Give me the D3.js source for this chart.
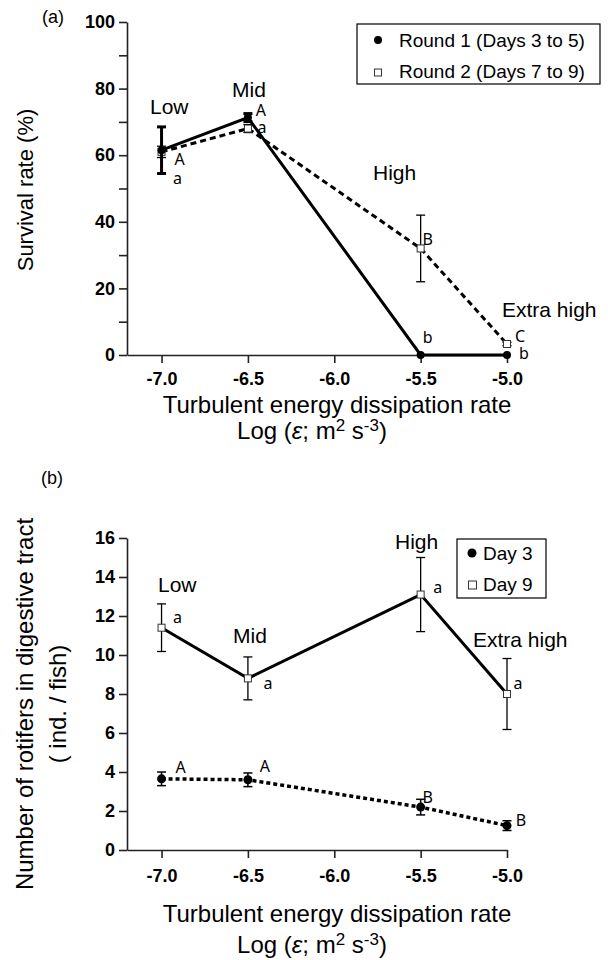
<!DOCTYPE html>
<html><head><meta charset="utf-8">
<script src="https://cdn.jsdelivr.net/npm/d3@7"></script>
<style>
html,body{margin:0;padding:0;background:#fff;}
svg{display:block;}
text{font-family:"Liberation Sans",Arial,sans-serif;fill:#000;}
</style></head>
<body>
<script>
// ---------- data ----------
const xVals = [-7.0, -6.5, -5.5, -5.0];
const levels = ["Low", "Mid", "High", "Extra high"];
const xTicks = [-7.0, -6.5, -6.0, -5.5, -5.0];
const xTickLabels = ["-7.0", "-6.5", "-6.0", "-5.5", "-5.0"];

// panel (a) survival rate (%)
const yTicksA = [0, 10, 20, 30, 40, 50, 60, 70, 80, 90, 100];
const yLabelsA = [0, 20, 40, 60, 80, 100];
const round1Mean = [61.5, 71.3, 0, 0];
const round1Err = [7.0, 1.2, 0, 0];
const round2Mean = [61.0, 68.0, 32.0, 3.3];
const round2Err = [1.7, 1.2, 10.0, 0.5];
const round1Letters = ["A", "A", "b", "b"];
const round2Letters = ["a", "a", "B", "C"];
const legendA = ["Round 1 (Days 3 to 5)", "Round 2 (Days 7 to 9)"];

// panel (b) rotifers in digestive tract
const yTicksB = [0, 2, 4, 6, 8, 10, 12, 14, 16];
const day9Mean = [11.4, 8.8, 13.1, 8.0];
const day9Err = [1.22, 1.1, 1.9, 1.82];
const day3Mean = [3.65, 3.6, 2.2, 1.25];
const day3Err = [0.35, 0.35, 0.4, 0.25];
const day9Letters = ["a", "a", "a", "a"];
const day3Letters = ["A", "A", "B", "B"];
const legendB = ["Day 3", "Day 9"];

// ---------- drawing ----------
const W = 608, H = 960;
const svg = d3.select("body").append("svg").attr("width", W).attr("height", H);

const x = d3.scaleLinear().domain([-7.2, -5.0]).range([127, 507]);
const yA = d3.scaleLinear().domain([0, 100]).range([355, 22]);
const yB = d3.scaleLinear().domain([0, 16]).range([850, 538]);

function axes(y, yTicks, yFmt, padX) {
  const gx = svg.append("g").attr("transform", `translate(0,${y.range()[0]})`)
    .call(d3.axisBottom(x).tickValues(xTicks).tickFormat((d, i) => xTickLabels[i])
      .tickSize(8).tickSizeOuter(0).tickPadding(padX));
  const gy = svg.append("g").attr("transform", `translate(${x.range()[0]},0)`)
    .call(d3.axisLeft(y).tickValues(yTicks).tickFormat(yFmt)
      .tickSize(8).tickSizeOuter(0).tickPadding(4));
  [gx, gy].forEach(g => {
    g.select(".domain").attr("stroke", "#222").attr("stroke-width", 1.6);
    g.selectAll(".tick line").attr("stroke", "#222").attr("stroke-width", 1.6);
    g.selectAll(".tick text").attr("font-family", "Liberation Sans, Arial, sans-serif")
      .attr("font-weight", "bold").attr("font-size", 18).attr("fill", "#000");
  });
}

function series(y, mean, err, opts) {
  const line = d3.line().x((d, i) => x(xVals[i])).y(d => y(d));
  svg.append("path").datum(mean).attr("d", line).attr("fill", "none")
    .attr("stroke", "#000").attr("stroke-width", opts.lw)
    .attr("stroke-dasharray", opts.dash || null);
  const g = svg.append("g");
  mean.forEach((m, i) => {
    const cx = x(xVals[i]);
    if (err[i] > 0) {
      const y1 = y(m + err[i]), y2 = y(m - err[i]);
      g.append("line").attr("x1", cx).attr("x2", cx).attr("y1", y1).attr("y2", y2)
        .attr("stroke", "#000").attr("stroke-width", opts.elw);
      [y1, y2].forEach(yy => g.append("line").attr("x1", cx - 4.5).attr("x2", cx + 4.5)
        .attr("y1", yy).attr("y2", yy).attr("stroke", "#000").attr("stroke-width", opts.elw));
    }
    if (opts.marker === "circle") {
      g.append("circle").attr("cx", cx).attr("cy", y(m)).attr("r", opts.r).attr("fill", "#000");
    } else {
      g.append("rect").attr("x", cx - 3.5).attr("y", y(m) - 3.5).attr("width", 7).attr("height", 7)
        .attr("fill", "#fff").attr("stroke", "#333").attr("stroke-width", 1);
    }
  });
}

function letters(y, mean, labs, offs) {
  labs.forEach((t, i) => {
    svg.append("text").attr("x", x(xVals[i]) + offs[i][0]).attr("y", y(mean[i]) + offs[i][1])
      .attr("text-anchor", "middle").attr("dominant-baseline", "central")
      .style("font-family", "'Noto Sans', 'DejaVu Sans', sans-serif")
      .attr("font-size", 16).attr("fill", "#111").text(t);
  });
}

function catLabels(pos) {
  levels.forEach((t, i) => {
    svg.append("text").attr("x", pos[i][0]).attr("y", pos[i][1]).attr("font-size", 21).text(t);
  });
}

function xTitle(y1, y2) {
  svg.append("text").attr("x", 337).attr("y", y1).attr("text-anchor", "middle")
    .attr("font-size", 24).text("Turbulent energy dissipation rate");
  const t = svg.append("text").attr("x", 312).attr("y", y2).attr("text-anchor", "middle")
    .attr("font-size", 24);
  t.append("tspan").text("Log (");
  t.append("tspan").attr("font-style", "italic").text("ε");
  t.append("tspan").text("; m");
  t.append("tspan").attr("font-size", 17).attr("dy", -8).text("2");
  t.append("tspan").attr("dy", 8).text(" s");
  t.append("tspan").attr("font-size", 17).attr("dy", -8).text("-3");
  t.append("tspan").attr("dy", 8).text(")");
}

// ----- panel (a) -----
svg.append("text").attr("x", 42).attr("y", 23).attr("font-size", 18).text("(a)");
axes(yA, yTicksA, d => (yLabelsA.includes(d) ? d : ""), 9);
series(yA, round2Mean, round2Err, {lw: 3, dash: "6,4", elw: 1.3, marker: "square"});
series(yA, round1Mean, round1Err, {lw: 3, elw: 3, marker: "circle", r: 4});
letters(yA, round1Mean, round1Letters, [[18, 9], [13, -8], [7, -18], [17, -2]]);
letters(yA, round2Mean, round2Letters, [[16, 26], [14, -2], [7, -9], [13, -8]]);
catLabels([[150, 114], [232, 97], [373, 180], [502, 317]]);
svg.append("text").attr("transform", "translate(33,190) rotate(-90)").attr("text-anchor", "middle")
  .attr("font-size", 22).text("Survival rate (%)");
xTitle(413, 439);

// legend (a)
const la = svg.append("g");
la.append("rect").attr("x", 357).attr("y", 24).attr("width", 243).attr("height", 60)
  .attr("fill", "#fff").attr("stroke", "#000").attr("stroke-width", 1.2);
la.append("circle").attr("cx", 378).attr("cy", 40).attr("r", 4).attr("fill", "#000");
la.append("rect").attr("x", 374.5).attr("y", 69).attr("width", 7).attr("height", 7)
  .attr("fill", "#fff").attr("stroke", "#333").attr("stroke-width", 1);
la.append("text").attr("x", 399).attr("y", 47).attr("font-size", 19).text(legendA[0]);
la.append("text").attr("x", 399).attr("y", 78).attr("font-size", 19).text(legendA[1]);

// ----- panel (b) -----
svg.append("text").attr("x", 41).attr("y", 484).attr("font-size", 18).text("(b)");
axes(yB, yTicksB, d => d, 11);
series(yB, day9Mean, day9Err, {lw: 3, elw: 1.3, marker: "square"});
series(yB, day3Mean, day3Err, {lw: 3.5, dash: "4,3", elw: 1.5, marker: "circle", r: 4.5});
letters(yB, day9Mean, day9Letters, [[16, -11], [20, 5], [17, -8], [11, -11]]);
letters(yB, day3Mean, day3Letters, [[19, -12], [17, -14], [7, -10], [14, -6]]);
catLabels([[158, 592], [233, 643], [395, 549], [473, 647]]);
const yl = svg.append("text").attr("transform", "translate(0,704) rotate(-90)")
  .attr("text-anchor", "middle").attr("font-size", 24);
yl.append("tspan").attr("x", 0).attr("y", 33).text("Number of rotifers in digestive tract");
yl.append("tspan").attr("x", 0).attr("y", 66).text("( ind. / fish)");
xTitle(922, 953);

// legend (b)
const lb = svg.append("g");
lb.append("rect").attr("x", 457).attr("y", 539).attr("width", 89).attr("height", 59)
  .attr("fill", "#fff").attr("stroke", "#000").attr("stroke-width", 1.2);
lb.append("circle").attr("cx", 472).attr("cy", 553).attr("r", 4.5).attr("fill", "#000");
lb.append("rect").attr("x", 468.5).attr("y", 581).attr("width", 8).attr("height", 8)
  .attr("fill", "#fff").attr("stroke", "#333").attr("stroke-width", 1);
lb.append("text").attr("x", 483).attr("y", 560).attr("font-size", 19).text(legendB[0]);
lb.append("text").attr("x", 483).attr("y", 591).attr("font-size", 19).text(legendB[1]);
</script>
</body></html>
